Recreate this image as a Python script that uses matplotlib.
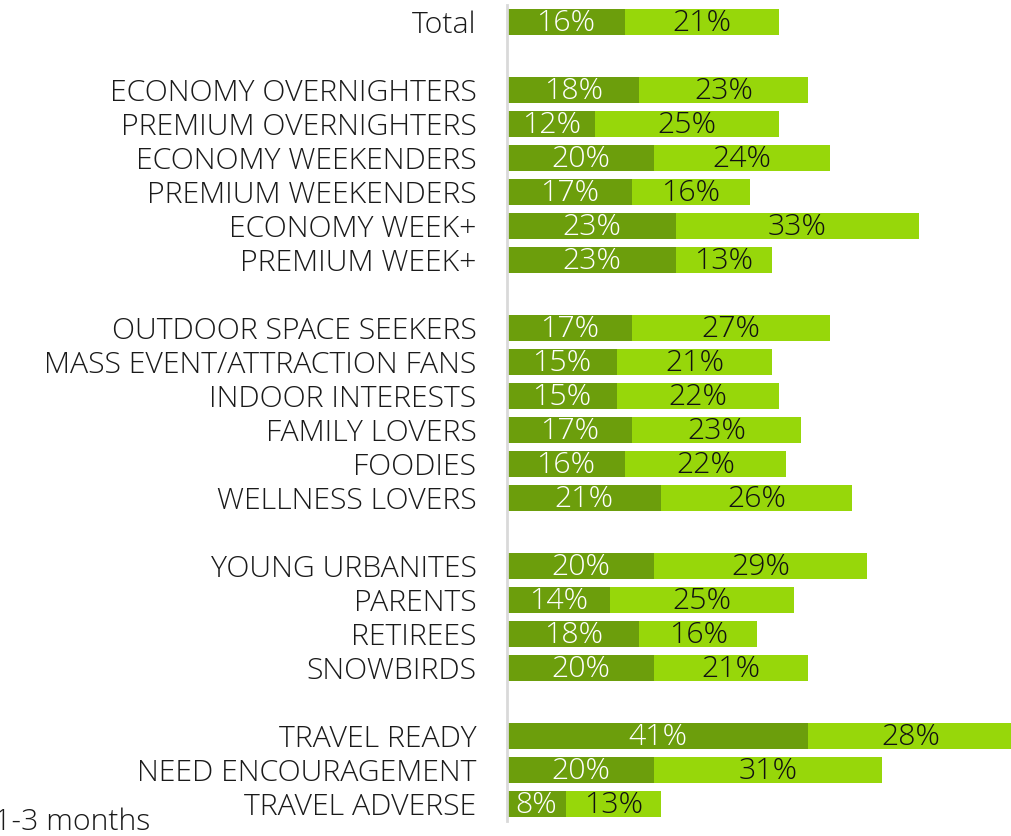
import matplotlib.pyplot as plt

plt.rcParams["font.family"] = ["Open Sans", "DejaVu Sans"]

# data
categories = [
    "Total", "",
    "ECONOMY OVERNIGHTERS", "PREMIUM OVERNIGHTERS", "ECONOMY WEEKENDERS",
    "PREMIUM WEEKENDERS", "ECONOMY WEEK+", "PREMIUM WEEK+", "",
    "OUTDOOR SPACE SEEKERS", "MASS EVENT/ATTRACTION FANS", "INDOOR INTERESTS",
    "FAMILY LOVERS", "FOODIES", "WELLNESS LOVERS", "",
    "YOUNG URBANITES", "PARENTS", "RETIREES", "SNOWBIRDS", "",
    "TRAVEL READY", "NEED ENCOURAGEMENT", "TRAVEL ADVERSE",
]
dark_vals = [16, None, 18, 12, 20, 17, 23, 23, None,
             17, 15, 15, 17, 16, 21, None,
             20, 14, 18, 20, None,
             41, 20, 8]
light_vals = [21, None, 23, 25, 24, 16, 33, 13, None,
              27, 21, 22, 23, 22, 26, None,
              29, 25, 16, 21, None,
              28, 31, 13]
legend_label = "1-3 months"

DARK = "#6c9e0c"
LIGHT = "#97d70a"
FS = 21.8
W = "light"

fig = plt.figure(figsize=(10.12, 8.36), dpi=100)
ax = fig.add_axes([507 / 1012, 15 / 836, 505 / 1012, 816 / 836])

for i, (d, l) in enumerate(zip(dark_vals, light_vals)):
    if d is None:
        continue
    ax.barh(i, d, height=0.74, color=DARK, edgecolor="none")
    ax.barh(i, l, left=d, height=0.74, color=LIGHT, edgecolor="none")
    ax.text(d / 2, i + 0.05, f"{d}%", ha="center", va="center",
            color="white", fontsize=FS, fontweight=W)
    ax.text(d + l / 2, i + 0.05, f"{l}%", ha="center", va="center",
            color="#111111", fontsize=FS, fontweight=W)

ax.set_xlim(0, 505 / 7.35)
ax.set_ylim(len(categories) - 0.5, -0.5)

ax.set_yticks(range(len(categories)))
ax.set_yticklabels(categories, fontsize=FS, color="#1a1a1a", fontweight=W)
ax.tick_params(axis="y", length=0, pad=22)
ax.set_xticks([])

for name, spine in ax.spines.items():
    if name == "left":
        spine.set_color("#d9d9d9")
        spine.set_linewidth(2)
    else:
        spine.set_visible(False)

fig.text(-0.006, 0.007, legend_label, fontsize=FS, color="#1a1a1a",
         ha="left", va="baseline", fontweight=W)

fig.savefig("out.png", dpi=100)
